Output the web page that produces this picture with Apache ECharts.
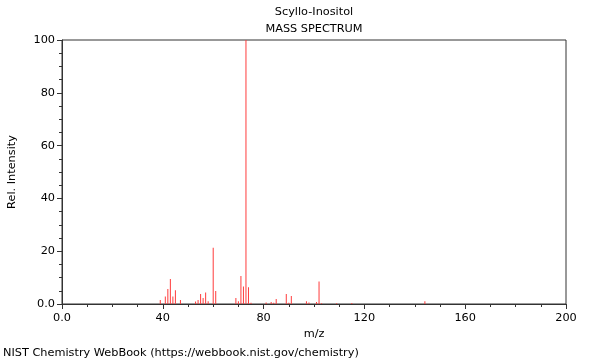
<!DOCTYPE html>
<html><head><meta charset="utf-8">
<script src="https://cdn.jsdelivr.net/npm/echarts@6/dist/echarts.min.js"></script>
<style>html,body{margin:0;padding:0;background:#fff}#c{width:600px;height:360px}</style>
</head><body><div id="c"></div>
<script>
const titleLines = ['Scyllo-Inositol', 'MASS SPECTRUM'];
const xTicks = [0, 40, 80, 120, 160, 200];
const yTicks = [0, 20, 40, 60, 80, 100];
const mz = [39, 41, 42, 43, 44, 45, 47, 53, 54, 55, 56, 57, 58, 60, 61, 69, 70, 71, 72, 73, 74, 75, 81, 83, 84, 85, 89, 90, 91, 97, 98, 101, 102, 103, 109, 115, 144];
const intensity = [1.5, 2.8, 5.7, 9.5, 2.8, 5.2, 1.5, 0.9, 1.5, 3.8, 2.3, 4.4, 1.0, 21.3, 4.9, 2.3, 1.0, 10.6, 6.6, 100, 6.3, 0.5, 0.6, 0.8, 0.5, 1.9, 3.8, 0.5, 3.0, 1.0, 0.6, 0.8, 8.5, 0.3, 0.3, 0.4, 1.0];

const chart = echarts.init(document.getElementById('c'), null, {renderer: 'canvas'});
const font = 'DejaVu Sans';
const fs = 11.3;
const zeroFmt = v => v === 0 ? '0.0' : String(v);
chart.setOption({
  animation: false,
  backgroundColor: '#fff',
  textStyle: {fontFamily: font},
  title: [
    {text: titleLines[0], left: 314, top: 7, padding: 0, textAlign: 'center', textStyle: {fontSize: fs, fontWeight: 'normal', color: '#000', fontFamily: font}},
    {text: titleLines[1], left: 314, top: 24, padding: 0, textAlign: 'center', textStyle: {fontSize: fs, fontWeight: 'normal', color: '#000', fontFamily: font}},
    {text: 'NIST Chemistry WebBook (https://webbook.nist.gov/chemistry)', left: 3, top: 348, padding: 0, textStyle: {fontSize: fs, fontWeight: 'normal', color: '#000', fontFamily: font}}
  ],
  grid: {left: 62, right: 34, top: 40, bottom: 56, outerBoundsMode: 'none', containLabel: false, show: true, borderColor: '#333', borderWidth: 1, backgroundColor: 'transparent'},
  xAxis: {
    type: 'value', min: xTicks[0], max: xTicks[xTicks.length - 1], interval: 40,
    name: 'm/z', nameLocation: 'middle', nameGap: 23,
    nameTextStyle: {fontSize: fs, color: '#000', fontFamily: font},
    axisLine: {lineStyle: {color: '#333'}},
    axisTick: {length: 5, lineStyle: {color: '#333'}},
    minorTick: {show: true, splitNumber: 4, length: 3, lineStyle: {color: '#333'}},
    splitLine: {show: false},
    axisLabel: {fontSize: fs, color: '#000', margin: 9, fontFamily: font, formatter: zeroFmt}
  },
  yAxis: {
    type: 'value', min: yTicks[0], max: yTicks[yTicks.length - 1], interval: 20,
    name: 'Rel. Intensity', nameLocation: 'middle', nameGap: 44, nameRotate: 90,
    nameTextStyle: {fontSize: fs, color: '#000', fontFamily: font},
    axisLine: {show: true, lineStyle: {color: '#333'}},
    axisTick: {show: true, length: 5, lineStyle: {color: '#333'}},
    minorTick: {show: true, splitNumber: 4, length: 3, lineStyle: {color: '#333'}},
    splitLine: {show: false},
    axisLabel: {fontSize: fs, color: '#000', margin: 7, fontFamily: font, formatter: zeroFmt}
  },
  series: [{
    type: 'bar',
    barWidth: 1,
    itemStyle: {color: '#ff3b3b'},
    data: mz.map((m, i) => [m, intensity[i]])
  }]
});
</script></body></html>
